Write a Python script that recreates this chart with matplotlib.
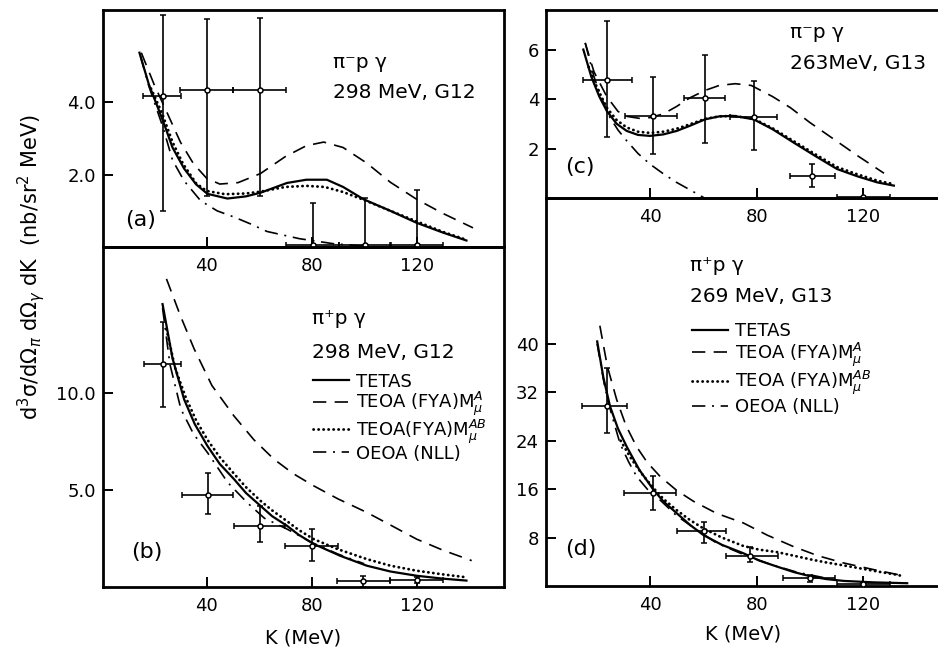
import numpy as np
import matplotlib.pyplot as plt

#-------------------------------------------------------------------------
#   Data : K in MeV, cross section in nb/sr^2 MeV
#-------------------------------------------------------------------------

# (a) pi- p gamma, 298 MeV, G12
a_k = [23.2, 40.0, 60.2, 80.4, 100.4, 120.0]
a_y = [4.16, 4.33, 4.33, 0.06, 0.06, 0.06]
a_up = [2.24, 1.98, 2.00, 1.17, 1.30, 1.52]
a_lo = [3.16, 2.91, 2.91, 0.0, 0.0, 0.0]
a_kl = [7.6, 10, 10, 10, 10, 10]
a_kr = [6.9, 10, 10, 10, 10, 10]

a_tetas_k = [14.4, 18, 23.4, 27, 31.4, 36, 40.3, 47.9, 55, 60.5, 65, 70.6, 78, 85.8, 92, 99.8, 110, 120, 130, 139]
a_tetas_y = [5.37, 4.49, 3.48, 2.75, 2.17, 1.73, 1.47, 1.34, 1.40, 1.50, 1.62, 1.77, 1.86, 1.86, 1.66, 1.32, 1.00, 0.67, 0.40, 0.18]
a_teoa_k = [15.1, 20, 25, 30, 35, 40, 45, 52, 60.5, 70, 78, 84.6, 92, 101, 110, 120, 130, 141.5]
a_teoa_y = [5.37, 4.49, 3.70, 2.90, 2.30, 1.90, 1.74, 1.78, 2.03, 2.50, 2.80, 2.90, 2.75, 2.32, 1.79, 1.32, 0.93, 0.53]
a_teab_k = [18.8, 23, 27, 31, 36, 40, 47, 55, 60.5, 70, 78, 85, 92, 100, 110, 120, 130, 139]
a_teab_y = [4.38, 3.70, 2.90, 2.30, 1.76, 1.55, 1.46, 1.48, 1.53, 1.66, 1.69, 1.66, 1.52, 1.30, 1.00, 0.71, 0.42, 0.20]
a_oeoa_k = [14.8, 18, 23.4, 27, 31.4, 37.7, 44, 50.4, 57, 63, 75.4, 88.5, 101]
a_oeoa_y = [5.27, 4.44, 3.30, 2.40, 1.83, 1.28, 1.00, 0.83, 0.63, 0.43, 0.23, 0.09, 0.02]

# (b) pi+ p gamma, 298 MeV, G12
b_k = [23.2, 40.5, 60.5, 80.0, 99.7, 120.0]
b_y = [11.5, 4.76, 3.13, 2.10, 0.29, 0.36]
b_up = [2.2, 1.12, 1.07, 0.89, 0.29, 0.15]
b_lo = [2.2, 1.00, 0.83, 0.74, 0.29, 0.15]
b_kl = [7.2, 10, 10, 10, 10, 10]
b_kr = [6.9, 9.6, 9.5, 10, 10, 10]

b_tetas_k = [23.2, 27, 31.4, 35.5, 40.3, 45, 50.4, 55, 60.5, 65, 70.6, 75, 80.8, 90.9, 101, 110, 120, 130, 139]
b_tetas_y = [14.6, 11.8, 9.69, 8.4, 7.28, 6.35, 5.57, 4.85, 4.19, 3.65, 3.16, 2.7, 2.22, 1.61, 1.10, 0.80, 0.58, 0.43, 0.33]
b_teoa_k = [24.7, 30, 35.2, 42, 50.4, 58, 65.6, 73, 80.8, 90, 101, 110, 120, 130, 141]
b_teoa_y = [15.9, 14.0, 12.3, 10.4, 8.83, 7.6, 6.6, 5.85, 5.22, 4.55, 3.85, 3.2, 2.47, 1.9, 1.36]
b_teab_k = [24.7, 28, 32, 36, 40.3, 45, 50.4, 55, 60.5, 65, 70.6, 75, 80.8, 90, 101, 110, 120, 130, 139]
b_teab_y = [13.3, 11.3, 9.8, 8.6, 7.6, 6.7, 5.85, 5.15, 4.45, 3.95, 3.4, 2.95, 2.47, 1.95, 1.44, 1.10, 0.84, 0.65, 0.50]
b_oeoa_k = [23.2, 26, 30.2, 35, 40.3, 48, 55.4, 62, 70.6, 80, 90, 100]
b_oeoa_y = [14.4, 11.5, 9.18, 7.9, 6.94, 5.4, 4.36, 3.55, 2.99, 2.3, 1.7, 1.2]

# (c) pi- p gamma, 263 MeV, G13
c_k = [23.8, 41.3, 60.7, 78.9, 100.8, 120.0]
c_y = [4.75, 3.32, 4.05, 3.28, 0.90, 0.05]
c_up = [2.39, 1.57, 1.72, 1.44, 0.47, 0.0]
c_lo = [2.28, 1.55, 1.81, 1.32, 0.47, 0.0]
c_kl = [9.1, 10.7, 8.1, 8.8, 8.1, 10]
c_kr = [9.4, 8.7, 7.5, 8.8, 8.8, 10]

c_tetas_k = [15, 18, 21, 23.8, 27.5, 31.3, 35.5, 40, 45, 50, 55, 60.7, 66, 71.4, 78.9, 86, 93.9, 102, 110.2, 118, 125.3, 131.5]
c_tetas_y = [6.0, 4.9, 4.1, 3.52, 3.0, 2.71, 2.55, 2.51, 2.57, 2.71, 2.92, 3.18, 3.30, 3.32, 3.18, 2.78, 2.24, 1.70, 1.17, 0.87, 0.63, 0.50]
c_teoa_k = [15.7, 19, 23.8, 28, 31.3, 36, 40, 45, 50, 55, 60.7, 66, 72, 78, 86, 92.7, 100, 110, 118, 127.8]
c_teoa_y = [6.27, 5.1, 4.1, 3.5, 3.3, 3.22, 3.25, 3.4, 3.7, 4.05, 4.35, 4.55, 4.62, 4.55, 4.1, 3.65, 3.05, 2.3, 1.7, 1.0]
c_teab_k = [17, 20, 23.8, 27.5, 31.3, 35.5, 40, 45, 50, 55, 60.7, 66, 71.4, 78.9, 86, 93.9, 102, 110.2, 118, 125.3, 131.5]
c_teab_y = [5.3, 4.5, 3.65, 3.15, 2.85, 2.68, 2.63, 2.68, 2.80, 2.98, 3.20, 3.30, 3.32, 3.20, 2.82, 2.30, 1.77, 1.25, 0.95, 0.70, 0.56]
c_oeoa_k = [15.7, 19, 22, 25, 28, 31.3, 35.5, 40, 45, 50, 55, 58.8, 62]
c_oeoa_y = [6.27, 4.9, 4.0, 3.25, 2.75, 2.31, 1.8, 1.37, 0.98, 0.63, 0.33, 0.1, -0.1]

# (d) pi+ p gamma, 269 MeV, G13
d_k = [23.8, 41.0, 60.1, 77.6, 100.2, 120.0]
d_y = [29.8, 15.4, 9.16, 4.98, 1.28, 0.4]
d_up = [6.2, 2.7, 1.44, 1.5, 0.5, 0.2]
d_lo = [4.5, 2.8, 2.1, 1.0, 0.7, 0.2]
d_kl = [9.3, 10.6, 9.9, 9.0, 10.2, 10]
d_kr = [7.6, 8.6, 8.5, 10.4, 9.4, 10]

d_tetas_k = [20.2, 22.5, 25, 28, 31.3, 36, 41.3, 45, 50.1, 55, 60.1, 67, 75.1, 81, 87.7, 94, 100.2, 106, 112.7, 124, 136.5]
d_tetas_y = [40.4, 34.5, 29.7, 26.0, 23.0, 19.2, 15.9, 14.0, 12.0, 10.1, 8.4, 6.8, 5.4, 4.2, 3.2, 2.3, 1.6, 1.15, 0.84, 0.6, 0.46]
d_teoa_k = [21.2, 24, 27.5, 31, 35, 39, 43.8, 50, 56.3, 65, 75.1, 84, 93.9, 103, 112.7, 124, 135.3]
d_teoa_y = [43.0, 36.3, 30.8, 26.5, 23.0, 20.4, 18.1, 15.8, 14.0, 12.0, 10.4, 8.4, 6.5, 5.0, 3.8, 2.7, 1.67]
d_teab_k = [29, 33, 37, 41.3, 45, 50.1, 55, 60.1, 67, 75.1, 81, 87.7, 94, 100.2, 106, 112.7, 119, 125.3, 132, 135.3]
d_teab_y = [24.0, 21.0, 18.5, 16.2, 14.4, 12.5, 10.9, 9.5, 8.0, 6.6, 6.0, 5.6, 5.0, 4.4, 3.9, 3.4, 2.9, 2.4, 1.9, 1.6]
d_oeoa_k = [20.2, 23, 25.5, 28.8, 32, 35, 39, 43.8, 50, 57.6, 65, 75.1, 85, 95, 105]
d_oeoa_y = [40.0, 33.0, 28.5, 23.5, 20.5, 18.1, 16.0, 14.2, 11.6, 9.27, 7.1, 5.2, 3.6, 2.3, 1.4]

x_ticks = [40, 80, 120]

legend_b = ["TETAS", r"TEOA (FYA)M$^{A}_{\mu}$", r"TEOA(FYA)M$^{AB}_{\mu}$", "OEOA (NLL)"]
legend_d = ["TETAS", r"TEOA (FYA)M$^{A}_{\mu}$", r"TEOA (FYA)M$^{AB}_{\mu}$", "OEOA (NLL)"]

#-------------------------------------------------------------------------
#   Styles
#-------------------------------------------------------------------------
plt.rcParams['font.family'] = ['DejaVu Sans']
solid = dict(color="black", linewidth=1.6, linestyle="-")
dashed = dict(color="black", linewidth=1.2, linestyle=(0, (8, 5)))
dotted = dict(color="black", linewidth=2.0, linestyle=(0, (0.1, 1.7)), dash_capstyle="round")
dashdot = dict(color="black", linewidth=1.2, linestyle=(0, (8, 4, 1.2, 4)))


def setup_axes(ax, xlim, ylim, yticks, ylabels):
    ax.set_xlim(*xlim)
    ax.set_ylim(*ylim)
    ax.set_xticks(x_ticks)
    ax.set_yticks(yticks)
    ax.set_yticklabels(ylabels)
    ax.tick_params(direction="in", length=7, width=1.4, labelsize=13, pad=5)
    ax.tick_params(axis="x", pad=7)
    for s in ax.spines.values():
        s.set_linewidth(2.0)
    ax.patch.set_alpha(0)


def draw_panel(ax, tk, ty, ek, ey, bk, by, ok, oy, pk, py, lo, up, kl, kr, labels=None):
    if labels is None:
        labels = [None] * 4
    ax.plot(tk, ty, label=labels[0], **solid)
    ax.plot(ek, ey, label=labels[1], **dashed)
    ax.plot(bk, by, label=labels[2], **dotted)
    ax.plot(ok, oy, label=labels[3], **dashdot)
    ax.errorbar(pk, py, yerr=[lo, up], xerr=[kl, kr], fmt="o", ms=3.6,
                mfc="white", mec="black", mew=1.1, ecolor="black",
                elinewidth=1.2, capsize=2.5, capthick=1.2, zorder=5)


#-------------------------------------------------------------------------
#   Figure
#-------------------------------------------------------------------------
fig = plt.figure(figsize=(9.38, 6.53), dpi=100)

ax_a = fig.add_axes([0.1095, 0.6217, 0.4278, 0.3630])
ax_b = fig.add_axes([0.1095, 0.1011, 0.4278, 0.5207])
ax_c = fig.add_axes([0.5821, 0.6968, 0.4200, 0.2879])
ax_d = fig.add_axes([0.5821, 0.1026, 0.4200, 0.5942])

# (a)
draw_panel(ax_a, a_tetas_k, a_tetas_y, a_teoa_k, a_teoa_y, a_teab_k, a_teab_y,
           a_oeoa_k, a_oeoa_y, a_k, a_y, a_lo, a_up, a_kl, a_kr)
setup_axes(ax_a, (0.4, 153.3), (0, 6.55), [2, 4], ["2.0", "4.0"])
ax_a.text(0.575, 0.779, "π⁻p γ", transform=ax_a.transAxes, fontsize=14.5, va="center")
ax_a.text(0.575, 0.651, "298 MeV, G12", transform=ax_a.transAxes, fontsize=14.5, va="center")
ax_a.text(0.095, 0.114, "(a)", transform=ax_a.transAxes, fontsize=16, ha="center", va="center")

# (b)
draw_panel(ax_b, b_tetas_k, b_tetas_y, b_teoa_k, b_teoa_y, b_teab_k, b_teab_y,
           b_oeoa_k, b_oeoa_y, b_k, b_y, b_lo, b_up, b_kl, b_kr, legend_b)
setup_axes(ax_b, (0.4, 153.3), (0, 17.55), [5, 10], ["5.0", "10.0"])
ax_b.text(0.522, 0.791, "π⁺p γ", transform=ax_b.transAxes, fontsize=14.5, va="center")
ax_b.text(0.522, 0.691, "298 MeV, G12", transform=ax_b.transAxes, fontsize=14.5, va="center")
ax_b.text(0.11, 0.102, "(b)", transform=ax_b.transAxes, fontsize=16, ha="center", va="center")
ax_b.legend(loc="upper left", bbox_to_anchor=(0.524, 0.63), frameon=False, fontsize=13,
            handlelength=2.0, handletextpad=0.4, labelspacing=-0.05, borderpad=0, borderaxespad=0)
ax_b.set_xlabel("K (MeV)", fontsize=14, labelpad=10)

# (c)
draw_panel(ax_c, c_tetas_k, c_tetas_y, c_teoa_k, c_teoa_y, c_teab_k, c_teab_y,
           c_oeoa_k, c_oeoa_y, c_k, c_y, c_lo, c_up, c_kl, c_kr)
setup_axes(ax_c, (1.0, 148.8), (0, 7.6), [2, 4, 6], ["2", "4", "6"])
ax_c.text(0.619, 0.878, "π⁻p γ", transform=ax_c.transAxes, fontsize=14.5, va="center")
ax_c.text(0.619, 0.718, "263MeV, G13", transform=ax_c.transAxes, fontsize=14.5, va="center")
ax_c.text(0.086, 0.165, "(c)", transform=ax_c.transAxes, fontsize=16, ha="center", va="center")

# (d)
draw_panel(ax_d, d_tetas_k, d_tetas_y, d_teoa_k, d_teoa_y, d_teab_k, d_teab_y,
           d_oeoa_k, d_oeoa_y, d_k, d_y, d_lo, d_up, d_kl, d_kr, legend_d)
setup_axes(ax_d, (1.0, 148.8), (0, 64.1), [8, 16, 24, 32, 40], ["8", "16", "24", "32", "40"])
ax_d.text(0.365, 0.827, "π⁺p γ", transform=ax_d.transAxes, fontsize=14.5, va="center")
ax_d.text(0.365, 0.745, "269 MeV, G13", transform=ax_d.transAxes, fontsize=14.5, va="center")
ax_d.text(0.089, 0.095, "(d)", transform=ax_d.transAxes, fontsize=16, ha="center", va="center")
ax_d.legend(loc="upper left", bbox_to_anchor=(0.37, 0.68), frameon=False, fontsize=13,
            handlelength=2.0, handletextpad=0.4, labelspacing=0.02, borderpad=0, borderaxespad=0)
ax_d.set_xlabel("K (MeV)", fontsize=14, labelpad=8)

# shared y label
fig.text(0.033, 0.591, r"d$^3$σ/dΩ$_\pi$ dΩ$_\gamma$ dK  (nb/sr$^2$ MeV)",
         rotation=90, fontsize=15, ha="center", va="center")

fig.savefig("out.png", dpi=100)
